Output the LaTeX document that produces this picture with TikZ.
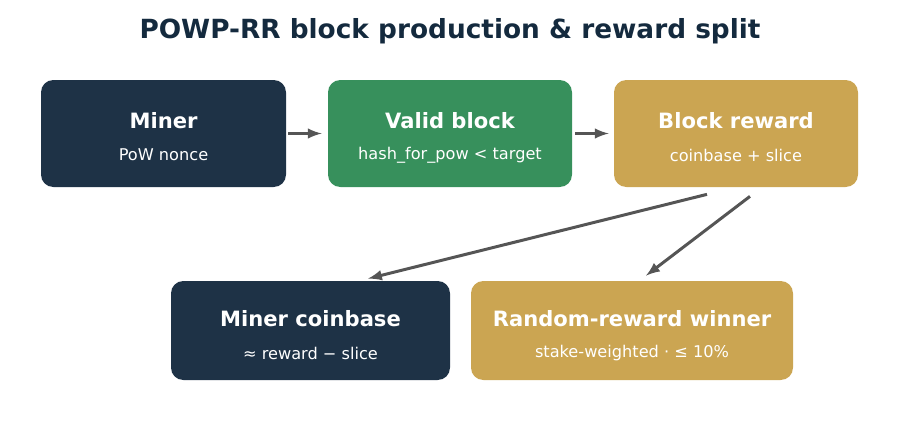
\documentclass[tikz,border=0pt]{standalone}
\usepackage{fontspec}
\setmainfont{DejaVu Sans}
\usetikzlibrary{calc}
\definecolor{navy}{HTML}{1E3246}
\definecolor{leaf}{HTML}{37905C}
\definecolor{gold}{HTML}{CBA552}
\definecolor{ink}{HTML}{142A3E}
\definecolor{wire}{HTML}{555555}
\tikzset{
  box/.style={rounded corners=7pt, inner sep=0pt, text=white, align=center},
  flow/.style={-latex, draw=wire, line width=1.7pt}
}
\begin{document}
\begin{tikzpicture}[x=0.02cm,y=-0.02cm]
\useasboundingbox (0,0) rectangle (900,426);
\node[text=ink, font=\bfseries\fontsize{15}{18}\selectfont] (title) at (450,31) {POWP-RR block production \& reward split};

\node[box, fill=navy, minimum width=245*0.02cm, minimum height=107*0.02cm] (miner) at (163.5,133.5) {};
\node[box, fill=leaf, minimum width=244*0.02cm, minimum height=107*0.02cm] (valid) at (450,133.5) {};
\node[box, fill=gold, minimum width=244*0.02cm, minimum height=107*0.02cm] (reward) at (736,133.5) {};
\node[box, fill=navy, minimum width=279*0.02cm, minimum height=99*0.02cm] (coinbase) at (310.5,330.5) {};
\node[box, fill=gold, minimum width=322*0.02cm, minimum height=99*0.02cm] (winner) at (632,330.5) {};

\foreach \n/\top/\sub/\y in {miner/Miner/PoW nonce/121, valid/Valid block/hash\_for\_pow < target/121, reward/Block reward/coinbase + slice/121, coinbase/Miner coinbase/≈ reward − slice/319, winner/Random-reward winner/stake-weighted · ≤ 10\%/319}{
  \node[text=white, font=\bfseries\fontsize{12}{14}\selectfont] at (\n |- 0,\y) {\top};
  \node[text=white, font=\fontsize{9.2}{11}\selectfont] at (\n |- 0,\y+34) {\sub};
}

\draw[flow] ($(miner.east)+(2,0)$) -- ($(valid.west)+(-6,0)$);
\draw[flow] ($(valid.east)+(3,0)$) -- ($(reward.west)+(-5,0)$);
\draw[flow] ($(reward.south)+(-29,7)$) -- ($(coinbase.north)+(57.5,-2)$);
\draw[flow] ($(reward.south)+(14,9)$) -- ($(winner.north)+(14,-5)$);
\end{tikzpicture}
\end{document}
